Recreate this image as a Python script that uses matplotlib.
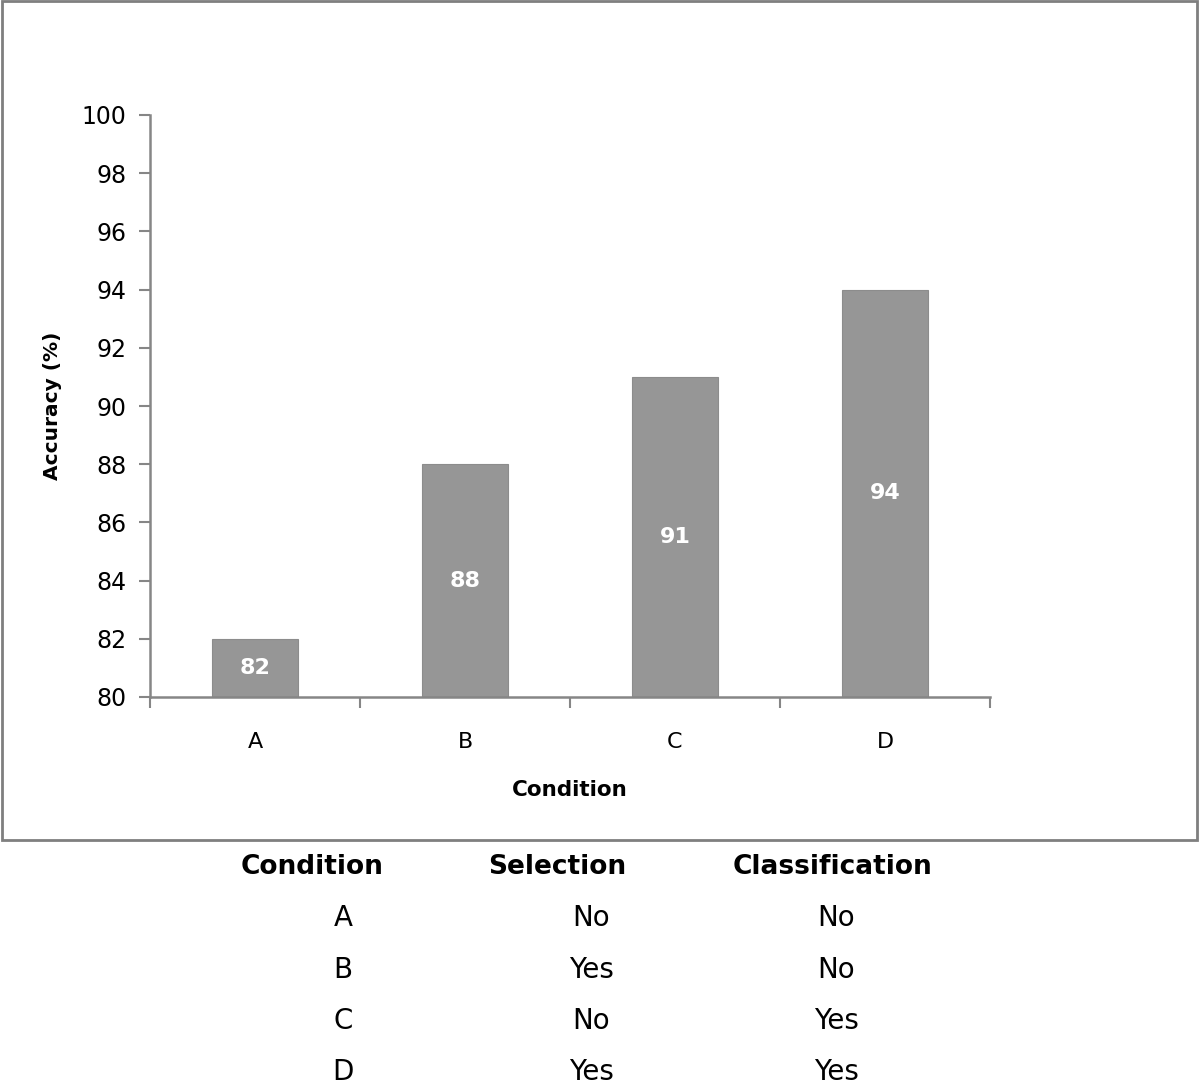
import matplotlib
matplotlib.use("Agg")
import matplotlib.pyplot as plt
from matplotlib.patches import Rectangle
from matplotlib.ticker import FixedLocator

conditions = ["A", "B", "C", "D"]
accuracy = [82, 88, 91, 94]
table_header = ["Condition", "Selection", "Classification"]
selection = ["No", "Yes", "No", "Yes"]
classification = ["No", "No", "Yes", "Yes"]

W, H = 1200, 1085
fig = plt.figure(figsize=(W / 100, H / 100), dpi=100)
fig.patch.set_facecolor("white")

axcol = "#868686"
barcol = "#969696"

ax = fig.add_axes([150 / W, 1 - 697 / H, 840 / W, 582 / H])
x = list(range(len(conditions)))
ax.bar(x, accuracy, width=0.405, color=barcol, edgecolor="#8c8c8c", linewidth=0.8, zorder=2)
ax.set_ylim(80, 100)
ax.set_xlim(-0.5, 3.5)
ax.set_yticks(range(80, 101, 2))
ax.set_xticks(x)
ax.set_xticklabels(conditions)
ax.xaxis.set_minor_locator(FixedLocator([-0.5, 0.5, 1.5, 2.5, 3.5]))
ax.tick_params(axis="x", which="major", length=0, pad=25, labelsize=16)
ax.tick_params(axis="x", which="minor", length=8, width=1.5, color=axcol, direction="out")
ax.tick_params(axis="y", length=8, width=1.5, color=axcol, direction="out", labelsize=17, pad=9)
for s in ["top", "right"]:
    ax.spines[s].set_visible(False)
for s in ["left", "bottom"]:
    ax.spines[s].set_color(axcol)
    ax.spines[s].set_linewidth(1.8)

for xi, v in zip(x, accuracy):
    ax.text(xi, 80 + (v - 80) / 2, str(v), ha="center", va="center", color="white",
            fontsize=16, fontweight="bold")

ax.set_ylabel("Accuracy (%)", fontsize=14.5, fontweight="bold", labelpad=14)
ax.set_xlabel("Condition", fontsize=15.5, fontweight="bold", labelpad=20)

# chart border
fig.patches.append(Rectangle((2 / W, 1 - 840 / H), 1195 / W, 839 / H, transform=fig.transFigure,
                             fill=False, edgecolor="#7f7f7f", linewidth=2))

# table below the chart
head_x = [312, 557, 832]
col_x = [343, 591, 836]
head_y = 867
row_y = [918, 970, 1021, 1072]
for hx, t in zip(head_x, table_header):
    fig.text(hx / W, 1 - head_y / H, t, ha="center", va="center", fontsize=19, fontweight="bold")
for i in range(len(conditions)):
    for cx, t in zip(col_x, [conditions[i], selection[i], classification[i]]):
        fig.text(cx / W, 1 - row_y[i] / H, t, ha="center", va="center", fontsize=20)

fig.savefig("out.png", dpi=100)
